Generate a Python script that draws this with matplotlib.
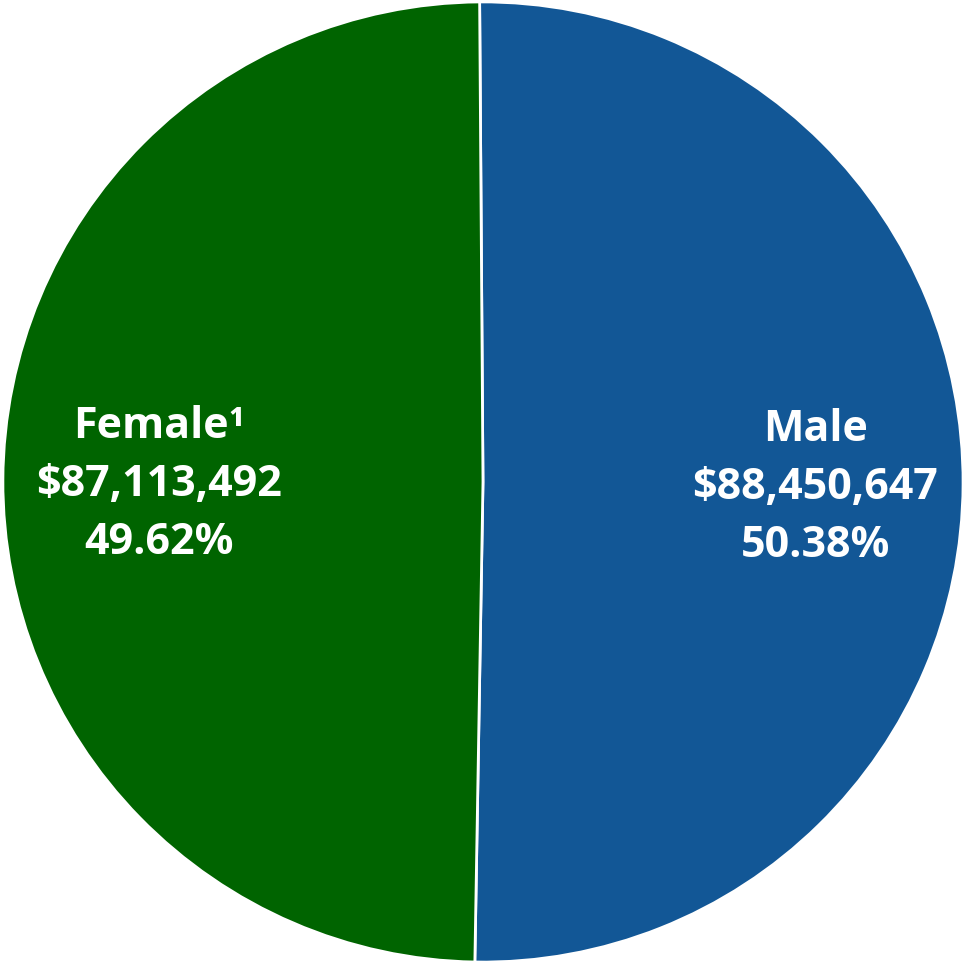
import numpy as np
import matplotlib.pyplot as plt

# datos del grafico
labels = ['Male', 'Female\u00b9']
values = [88450647, 87113492]
pcts = ['50.38%', '49.62%']
colors = ['#125796', '#006400']

fig = plt.figure(figsize=(9.65, 9.64), dpi=100)
ax = fig.add_axes([0, 0, 1, 1])

wedges, _ = ax.pie(values, colors=colors, startangle=90.4, counterclock=False,
                   radius=1.0, center=(0, 0),
                   wedgeprops=dict(edgecolor='white', linewidth=2))

# etiquetas dentro de cada rebanada
radios = [0.692, 0.675]
for w, lab, v, p, r in zip(wedges, labels, values, pcts, radios):
    ang = np.deg2rad((w.theta1 + w.theta2) / 2)
    ax.text(r * np.cos(ang), r * np.sin(ang) - 0.008, f'{lab}\n${v:,}\n{p}',
            ha='center', va='center', color='white', fontsize=31,
            fontweight='bold', family='Open Sans', linespacing=1.45)

ax.set_xlim(-1.006, 1.004)
ax.set_ylim(-1.004, 1.004)
ax.set_aspect('equal')
ax.axis('off')
fig.savefig('out.png', dpi=100)
